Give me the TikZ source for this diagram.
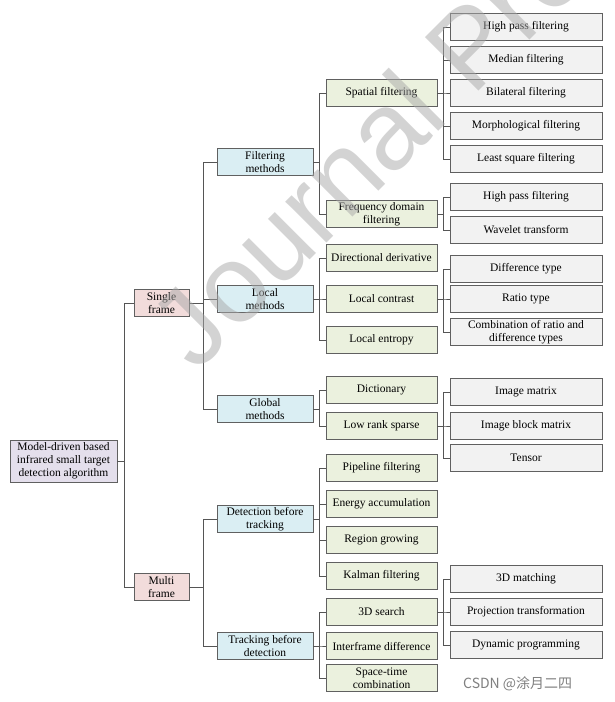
\documentclass[tikz,border=0pt]{standalone}
\usepackage{fontspec}
\setmainfont{Liberation Serif}
\newfontfamily\wmfont{Liberation Sans}
\newfontfamily\cjk{Noto Sans CJK SC}
\definecolor{boxline}{HTML}{606060}
\definecolor{connc}{HTML}{555555}
\definecolor{rootc}{HTML}{E4DFEC}
\definecolor{pinkc}{HTML}{F2DCDB}
\definecolor{bluec}{HTML}{DAEEF3}
\definecolor{greenc}{HTML}{EBF1DE}
\definecolor{grayc}{HTML}{F2F2F2}
\definecolor{wmc}{HTML}{A8A8A8}
\newcommand\myfork[3]{\foreach \c in {#3} \draw[conn] (#1.east) -- ++(#2,0) |- (\c.west);}
\begin{document}
\begin{tikzpicture}[x=1pt,y=-1pt,
  box/.style={draw=boxline, line width=0.9pt, minimum height=27.5pt, inner sep=1pt, align=center, font=\fontsize{11.5}{13}\selectfont},
  rootbox/.style={box, fill=rootc, minimum width=107pt, minimum height=42pt},
  framebox/.style={box, fill=pinkc, minimum width=55pt},
  lvlone/.style={box, fill=bluec, minimum width=96pt},
  lvltwo/.style={box, fill=greenc, minimum width=111pt},
  lvlthree/.style={box, fill=grayc, minimum width=152pt},
  conn/.style={draw=connc, line width=0.8pt}]
\useasboundingbox (0,0) rectangle (614,702);
\fill[white] (0,0) rectangle (614,702);
% root and frames
\node[rootbox] (root) at (63.5,461) {Model-driven based\\infrared small target\\detection algorithm};
\node[framebox] (sfr) at (161.5,303) {Single\\frame};
\node[framebox] (mfr) at (161.5,587) {Multi\\frame};
% level one
\node[lvlone] (fm) at (265,162) {Filtering\\methods};
\node[lvlone] (lm) at (265,299) {Local\\methods};
\node[lvlone] (gm) at (265,409) {Global\\methods};
\node[lvlone] (dbt) at (265,519) {Detection before\\tracking};
\node[lvlone] (tbd) at (265,646) {Tracking before\\detection};
% level two
\node[lvltwo] (spf) at (381.5,93) {Spatial filtering};
\node[lvltwo] (fdf) at (381.5,214) {Frequency domain\\filtering};
\node[lvltwo] (dd) at (381.5,258) {Directional derivative};
\node[lvltwo] (lc) at (381.5,299) {Local contrast};
\node[lvltwo] (le) at (381.5,340) {Local entropy};
\node[lvltwo] (dic) at (381.5,390) {Dictionary};
\node[lvltwo] (lrs) at (381.5,426) {Low rank sparse};
\node[lvltwo] (pf) at (381.5,468) {Pipeline filtering};
\node[lvltwo] (ea) at (381.5,504) {Energy accumulation};
\node[lvltwo] (rg) at (381.5,540) {Region growing};
\node[lvltwo] (kf) at (381.5,576) {Kalman filtering};
\node[lvltwo] (sds) at (381.5,612) {3D search};
\node[lvltwo] (ifd) at (381.5,646) {Interframe difference};
\node[lvltwo] (stc) at (381.5,678) {Space-time\\combination};
% level three
\node[lvlthree] (hpa) at (526,27) {High pass filtering};
\node[lvlthree] (med) at (526,60) {Median filtering};
\node[lvlthree] (bil) at (526,93) {Bilateral filtering};
\node[lvlthree] (mor) at (526,126) {Morphological filtering};
\node[lvlthree] (lsq) at (526,159) {Least square filtering};
\node[lvlthree] (hpb) at (526,197) {High pass filtering};
\node[lvlthree] (wav) at (526,230) {Wavelet transform};
\node[lvlthree] (dif) at (526,269) {Difference type};
\node[lvlthree] (rat) at (526,299) {Ratio type};
\node[lvlthree] (comb) at (526,332) {Combination of ratio and\\difference types};
\node[lvlthree] (im) at (526,392) {Image matrix};
\node[lvlthree] (ibm) at (526,426) {Image block matrix};
\node[lvlthree] (ten) at (526,458) {Tensor};
\node[lvlthree] (mtd) at (526,579) {3D matching};
\node[lvlthree] (proj) at (526,612) {Projection transformation};
\node[lvlthree] (dyn) at (526,645) {Dynamic programming};
% connectors
\myfork{root}{7}{sfr,mfr}
\myfork{sfr}{14}{fm,lm,gm}
\myfork{mfr}{14}{dbt,tbd}
\myfork{fm}{6}{spf,fdf}
\myfork{lm}{6}{dd,lc,le}
\myfork{gm}{6}{dic,lrs}
\myfork{dbt}{6}{pf,ea,rg,kf}
\myfork{tbd}{6}{sds,ifd,stc}
\myfork{spf}{6}{hpa,med,bil,mor,lsq}
\myfork{fdf}{6}{hpb,wav}
\myfork{lc}{6}{dif,rat,comb}
\myfork{lrs}{6}{im,ibm,ten}
\myfork{sds}{6}{mtd,proj,dyn}
% watermark and credit
\node[rotate=45, anchor=base west, inner sep=0pt, text=wmc, text opacity=0.5, font=\wmfont\fontsize{110}{110}\selectfont] (wm) at (196,374) {Journal Pre-proof};
\node[anchor=west, inner sep=0pt, text=gray, font=\cjk\fontsize{14}{14}\selectfont] (csdn) at (463,684) {CSDN @涂月二四};
\end{tikzpicture}
\end{document}
